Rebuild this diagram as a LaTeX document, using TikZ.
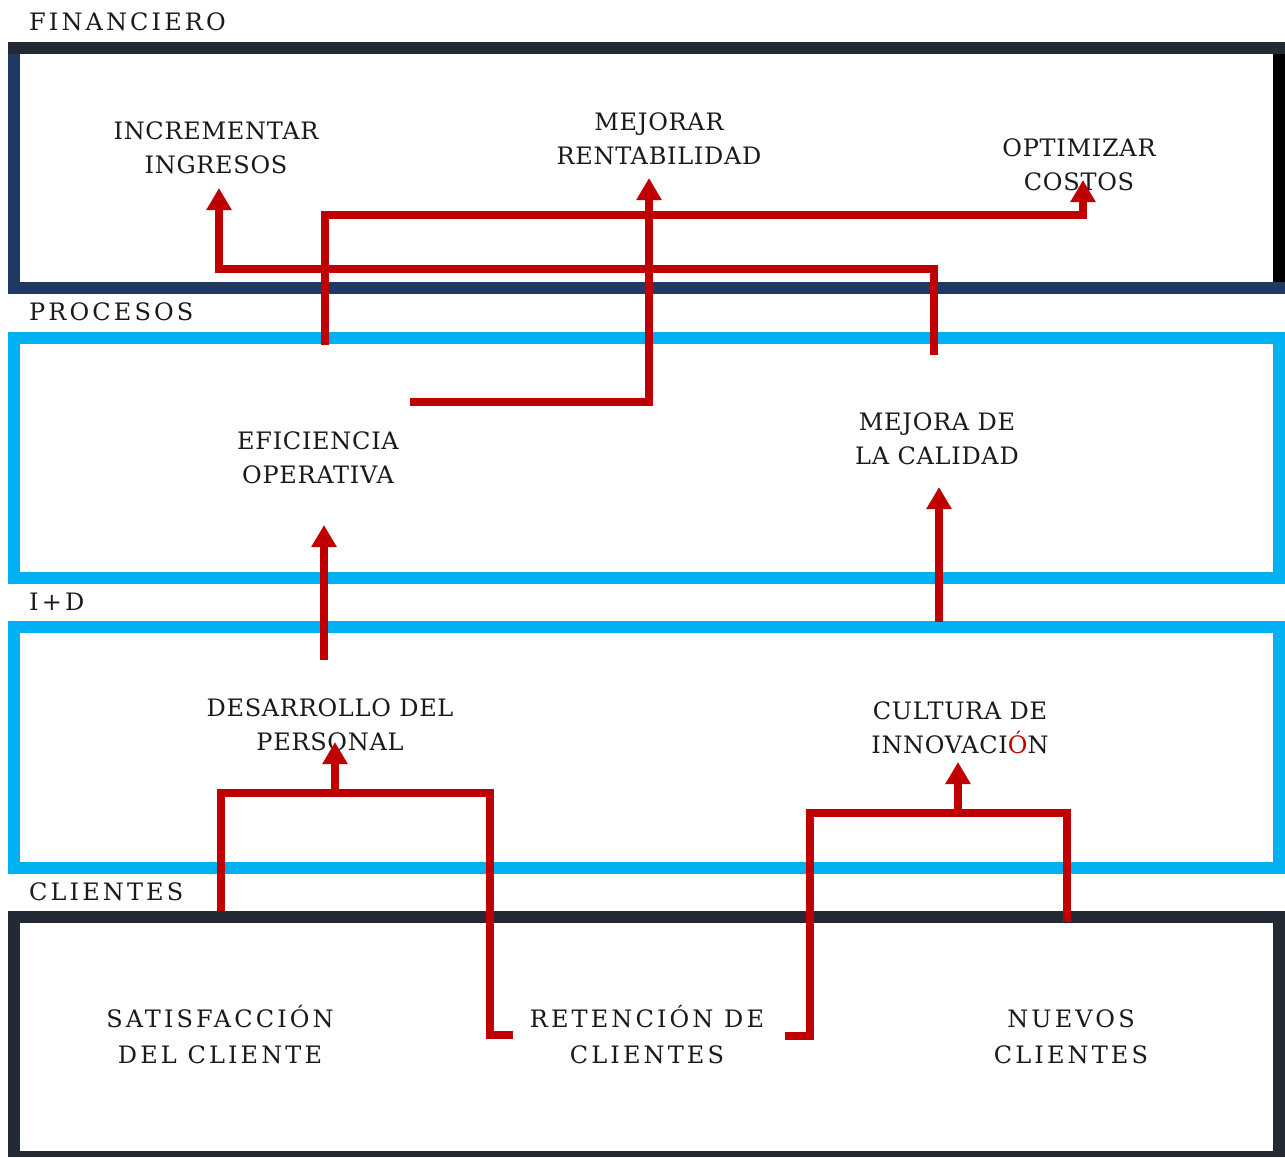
\documentclass[tikz,border=0pt]{standalone}
\usepackage{fontspec}
\setmainfont{DejaVu Serif}
\newfontfamily\labelfont[LetterSpace=3]{DejaVu Serif}
\newfontfamily\widefont[LetterSpace=13]{DejaVu Serif}
\usetikzlibrary{arrows.meta}

\definecolor{navy}{HTML}{203864}
\definecolor{slate}{HTML}{232A36}
\definecolor{sky}{HTML}{00B0F0}
\definecolor{crimson}{HTML}{C00000}
\definecolor{ink}{HTML}{1A1A1A}

\tikzset{
  lbl/.style={font=\labelfont\fontsize{24}{34}\selectfont, align=center, inner sep=0pt, text=ink},
  wlbl/.style={font=\widefont\fontsize{24}{36}\selectfont, align=center, inner sep=0pt, text=ink},
  sec/.style={anchor=west, inner sep=0pt, text=ink, font=\widefont\fontsize{24}{28}\selectfont},
  link/.style={draw=crimson, line width=7.5pt, line join=miter},
  tip/.style={link, -{Triangle[width=24pt,length=22pt]}},
  band/.style={draw=sky, line width=12pt}
}

\begin{document}
\begin{tikzpicture}[x=1pt,y=-1pt]
\useasboundingbox (0,0) rectangle (1285,1157);

% --- perspective frames ---
% financial frame: dark top, navy left and bottom, black right
\fill[slate] (8,42) rectangle (1285,54);
\fill[navy]  (8,54) rectangle (20,294);
\fill[navy]  (8,282) rectangle (1285,294);
\fill[black] (1273,54) rectangle (1285,282);
% process and R&D frames
\draw[band] (14,337.5) rectangle (1279,577.5);
\draw[band] (14,627) rectangle (1279,867.5);
% customer frame
\fill[slate] (8,911) rectangle (1285,1157);
\fill[white] (20,923) rectangle (1273,1151);

% --- perspective titles ---
\node[sec] (fin) at (29,22)    {FINANCIERO};
\node[sec] (pro) at (29,312)   {PROCESOS};
\node[sec] (id)  at (29,602)   {I+D};
\node[sec] (cli) at (29,891.5) {CLIENTES};

% --- objectives ---
\node[lbl] (inc)  at (216,148)    {INCREMENTAR\\INGRESOS};
\node[lbl] (rent) at (659,138.5)  {MEJORAR\\RENTABILIDAD};
\node[lbl] (cost) at (1079,165)   {OPTIMIZAR\\COSTOS};
\node[lbl] (efi)  at (318,458)    {EFICIENCIA\\OPERATIVA};
\node[lbl] (cal)  at (937,439)    {MEJORA DE\\LA CALIDAD};
\node[lbl] (des)  at (330,724.5)  {DESARROLLO DEL\\PERSONAL};
\node[lbl] (inn)  at (960,728)    {CULTURA DE\\INNOVACI{\color{crimson}Ó}N};
\node[wlbl] (sat) at (220,1034.5) {SATISFACCIÓN\\DEL CLIENTE};
\node[wlbl] (ret) at (647,1034.5) {RETENCIÓN DE\\CLIENTES};
\node[wlbl] (nue) at (1071,1036.5){NUEVOS\\CLIENTES};

% --- link end points ---
\coordinate (calOut)  at (934,355);
\coordinate (incIn)   at (219,188);
\coordinate (efiUp)   at (325,345);
\coordinate (costIn)  at (1083,180);
\coordinate (efiOut)  at (410,402);
\coordinate (rentIn)  at (649,178);
\coordinate (desOut)  at (324,660);
\coordinate (efiIn)   at (324,525);
\coordinate (innOut)  at (939,622);
\coordinate (calIn)   at (939,487);
\coordinate (satOut)  at (221,911);
\coordinate (retL)    at (513,1035);
\coordinate (desJoin) at (335,793);
\coordinate (desIn)   at (335,742);
\coordinate (retR)    at (785,1036);
\coordinate (nueOut)  at (1067,922);
\coordinate (innJoin) at (958,813);
\coordinate (innIn)   at (958,762);

% --- cause and effect links ---
\draw[tip] (calOut) |- (219,269) -- (incIn);
\draw[tip] (efiUp) |- (1083,215) -- (costIn);
\draw[tip] (efiOut) -| (rentIn);
\draw[tip] (desOut) -- (efiIn);
\draw[tip] (innOut) -- (calIn);
\draw[link] (satOut) |- (490,793) |- (retL);
\draw[tip] (desJoin) -- (desIn);
\draw[link] (retR) -| (810,813) -| (nueOut);
\draw[tip] (innJoin) -- (innIn);
\end{tikzpicture}
\end{document}
